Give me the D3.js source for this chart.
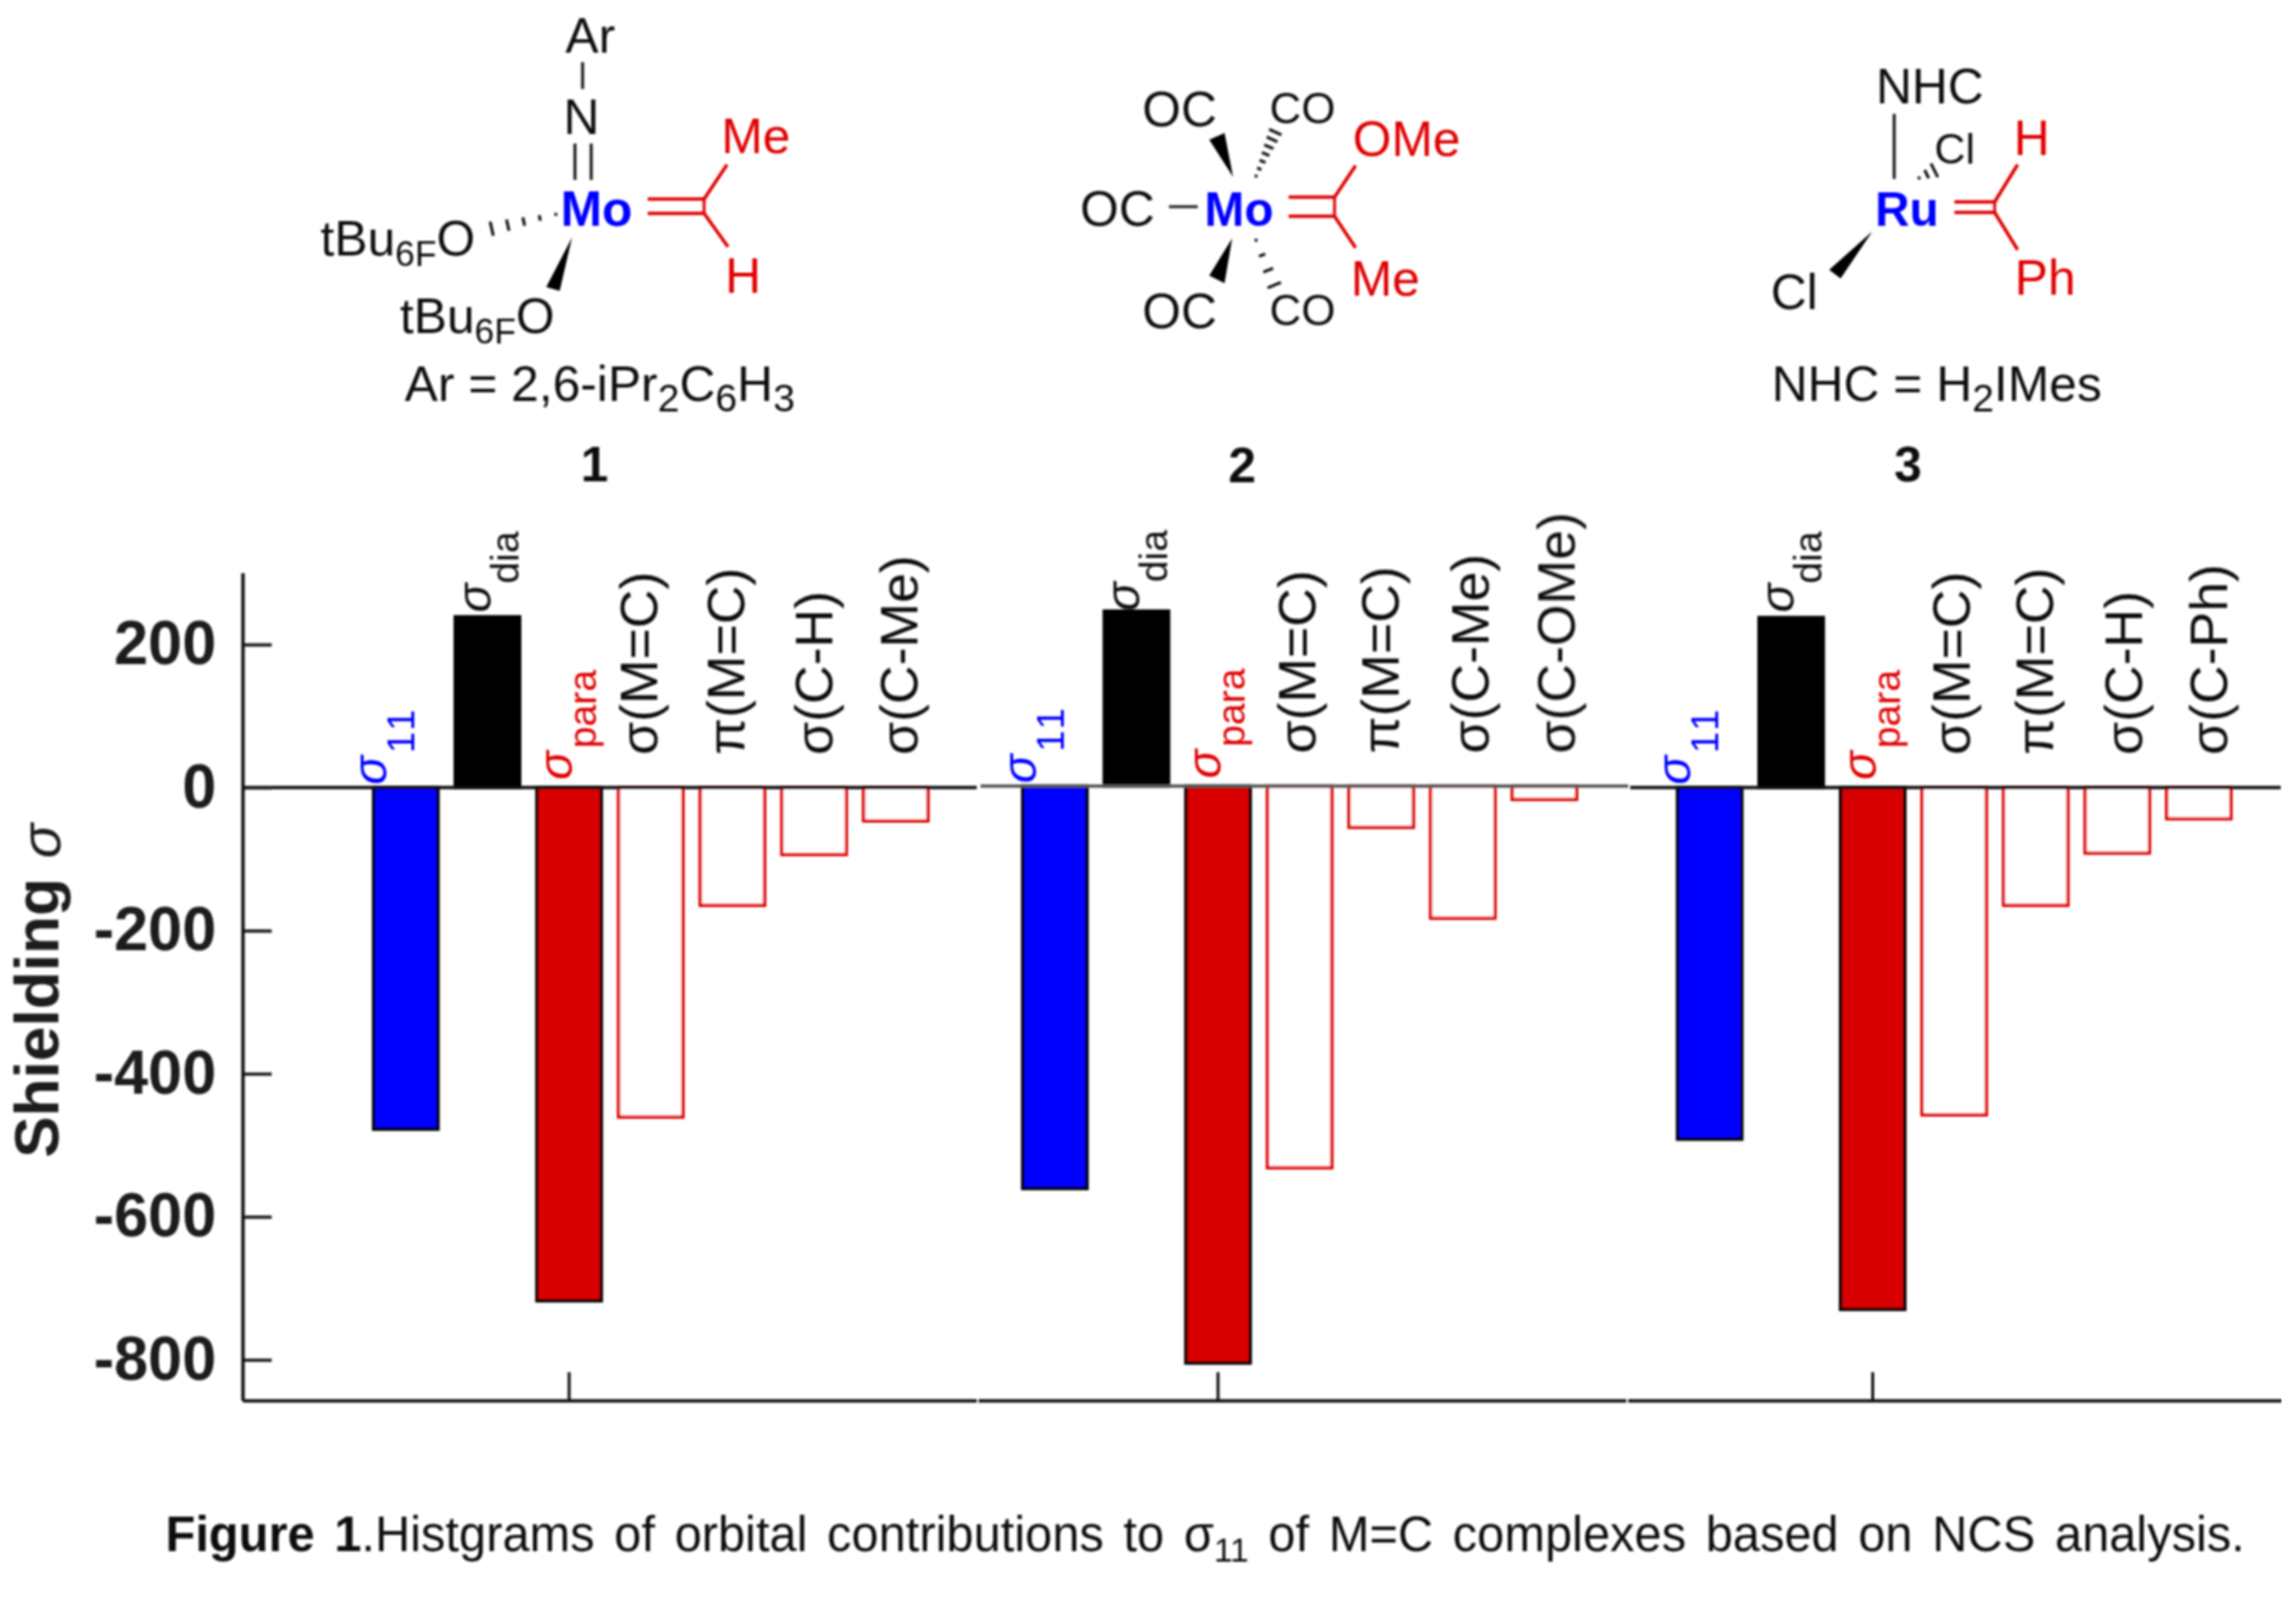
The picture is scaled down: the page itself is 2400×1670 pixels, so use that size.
<!DOCTYPE html>
<html><head><meta charset="utf-8">
<script src="https://cdn.jsdelivr.net/npm/d3@7"></script>
<style>html,body{margin:0;padding:0;background:#fff}svg{display:block}text{font-family:"Liberation Sans",Arial,sans-serif}</style>
</head><body><div id="c"></div>
<script>
// ---- data ----
const slots = ["s11","dia","para","o1","o2","o3","o4"];
const complexes = ["1","2","3"];
const values1 = [-480, 241, -720, -463, -167, -96, -49];
const values2 = [-565, 247, -809, -536, -60, -187, -21];
const values3 = [-494, 240, -732, -460, -167, -94, -46];
const orbitals1 = ["σ(M=C)","π(M=C)","σ(C-H)","σ(C-Me)"];
const orbitals2 = ["σ(M=C)","π(M=C)","σ(C-Me)","σ(C-OMe)"];
const orbitals3 = ["σ(M=C)","π(M=C)","σ(C-H)","σ(C-Ph)"];
const yTickValues = [200,0,-200,-400,-600,-800];
const mainLabels = [["11","#0000ff"],["dia","#111"],["para","#e00000"]];

// ---- layout ----
const W=2400,H=1670,blue="#0000ff",red="#e00000",fillRed="#d80000",ink="#111";
const y=d3.scaleLinear().domain([0,-800]).range([823,1421]);
const bottomY=1464;
const panels=[
 {vals:values1,orb:orbitals1,range:[381.5,979],seg:[254,1021],zero:[254,1021],dy:0,orbX:[687,778,870,959],zc:"#111"},
 {vals:values2,orb:orbitals2,range:[1060,1657],seg:[1023,1700],zero:[1025,1702],dy:-1.5,orbX:[1375,1462,1556,1646],zc:"#555"},
 {vals:values3,orb:orbitals3,range:[1744.5,2341],seg:[1702,2385],zero:[1704,2384],dy:0,orbX:[2059,2146,2239,2328],zc:"#111"}
];
const sigDx=[[-20,9],[3,32],[3,28]];
const fillOf=i=>i===0?blue:i===1?"#000":i===2?fillRed:"#fff";

const svg=d3.select("#c").append("svg").attr("width",W).attr("height",H);
const defs=svg.append("defs");
defs.append("filter").attr("id","soft").attr("x",0).attr("y",0).attr("width","100%").attr("height","100%")
  .append("feGaussianBlur").attr("stdDeviation",0.8);
svg.append("rect").attr("width",W).attr("height",H).attr("fill","#fff");
const root=svg.append("g").attr("filter","url(#soft)");

function rot(sel,x,yy,txt,size,col,opt={}){
  return sel.append("text").attr("transform",`translate(${x},${yy}) rotate(-90)`).attr("font-size",size)
    .attr("fill",col).attr("font-style",opt.style||null).attr("font-weight",opt.weight||null)
    .attr("letter-spacing",opt.ls||null).text(txt);
}

panels.forEach(p=>{
  const g=root.append("g").attr("transform",`translate(0,${p.dy})`);
  const x=d3.scaleBand().domain(slots).range(p.range).paddingInner(0.17).paddingOuter(0.085);
  const bw=x.bandwidth(), sw=3.5;
  g.selectAll("rect.bar").data(p.vals).join("rect").attr("class","bar")
    .attr("x",(d,i)=>x(slots[i])+sw/2).attr("width",bw-sw)
    .attr("y",d=>d>0?y(d)+sw/2:y(0))
    .attr("height",d=>Math.abs(y(d)-y(0))-sw/2)
    .attr("fill",(d,i)=>fillOf(i))
    .attr("stroke",(d,i)=>i<3?"#000":red).attr("stroke-width",sw);
  g.append("line").attr("x1",p.zero[0]).attr("x2",p.zero[1]).attr("y1",y(0)).attr("y2",y(0))
    .attr("stroke",p.zc).attr("stroke-width",3.5);
  const sigY=[[820,787],[640,610],[815,782]];
  mainLabels.forEach((m,i)=>{
    const c=x(slots[i])+bw/2;
    rot(g,c+sigDx[i][0],sigY[i][0],"σ",50,m[1],{style:"italic"});
    rot(g,c+sigDx[i][1],sigY[i][1],m[0],i===0?40:41,m[1],{ls:i===0?"4px":null});
  });
  p.orb.forEach((t,i)=>rot(g,p.orbX[i],789,t,56,"#111"));
  const ax=d3.axisBottom(x).tickValues(["para"]).tickFormat("").tickSize(-30).tickSizeOuter(0);
  const a=root.append("g").attr("transform",`translate(0,${bottomY})`).call(ax);
  a.select(".domain").remove();
  a.selectAll("line").attr("stroke","#111").attr("stroke-width",3);
  root.append("line").attr("x1",p.seg[0]).attr("x2",p.seg[1]).attr("y1",bottomY).attr("y2",bottomY)
    .attr("stroke","#111").attr("stroke-width",3.5);
});

// y axis
const yAxis=d3.axisLeft(y).tickValues(yTickValues).tickFormat(d=>String(d)).tickSize(-30).tickPadding(28).tickSizeOuter(0);
const ya=root.append("g").attr("transform","translate(254,0)").call(yAxis);
ya.select(".domain").remove();
ya.selectAll("line").attr("stroke","#222").attr("stroke-width",3.5);
ya.selectAll("text").attr("font-size",64).attr("font-weight","bold").attr("fill","#1a1a1a").attr("font-family",'"Liberation Sans"');
root.append("line").attr("x1",254).attr("x2",254).attr("y1",599).attr("y2",bottomY).attr("stroke","#111").attr("stroke-width",3.5);

// axis title
rot(root,61,1210,"Shielding",65,"#1a1a1a",{weight:"bold"});
rot(root,63,897,"σ",60,"#1a1a1a",{style:"italic"});

function formula(x,yy,parts,col,size,subSize){
  const t=root.append("text").attr("x",x).attr("y",yy).attr("fill",col).attr("font-size",size);
  let off=0;
  parts.forEach(p=>{
    const isSub=Array.isArray(p);
    const dy=isSub?11-off:-off;
    t.append("tspan").attr("dy",dy).attr("font-size",isSub?subSize:size).text(isSub?p[0]:p);
    off=isSub?11:0;
  });
  return t;
}
function L(x1,y1,x2,y2,col,w){root.append("line").attr("x1",x1).attr("y1",y1).attr("x2",x2).attr("y2",y2).attr("stroke",col||"#111").attr("stroke-width",w||3);}
function tri(a,b,c){root.append("path").attr("d",d3.line()([a,b,c])+"Z").attr("fill","#000");}
function hash(x1,y1,x2,y2,n,w1,w2){
  const dx=x2-x1,dy=y2-y1,l=Math.hypot(dx,dy),nx=-dy/l,ny=dx/l;
  d3.range(n).forEach(i=>{const f=i/(n-1),cx=x1+dx*f,cy=y1+dy*f,h=(w1+(w2-w1)*f)/2;
    L(cx-nx*h,cy-ny*h,cx+nx*h,cy+ny*h,"#111",3);});
}
function T(x,yy,s,col,size,weight){root.append("text").attr("x",x).attr("y",yy).attr("fill",col||"#111").attr("font-size",size||52).attr("font-weight",weight||null).text(s);}

// --- structure 1
T(591,55,"Ar");L(609,65,609,93);T(589,140,"N");L(601,150,601,188);L(618,150,618,188);
T(586,236,"Mo",blue,52,"bold");
L(677,208,736,208,red,3.5);L(677,223,736,223,red,3.5);L(736,208,736,223,red,3);L(736,208,760,172,red,3.5);L(736,223,761,258,red,3.5);
T(754,160,"Me",red);T(758,306,"H",red);
formula(335,267,["tBu",["6F"],"O"],"#111",52,37);
hash(581,224,514,239,5,3,15);
tri([598,248],[571,300],[585,304]);
formula(418,348,["tBu",["6F"],"O"],"#111",52,37);
formula(423,419,["Ar = 2,6-iPr",["2"],"C",["6"],"H",["3"]],"#111",52,41);
T(607,503,"1","#111",52,"bold");

// --- structure 2
T(1194,132,"OC");T(1327,129,"CO","#111",46);T(1414,163,"OMe",red);
T(1129,236,"OC");L(1222,216,1252,216,"#222",3);T(1259,236,"Mo",blue,50,"bold");
L(1347,206,1395,206,red,3.5);L(1347,226,1395,226,red,3.5);L(1395,206,1395,226,red,3);L(1395,206,1417,173,red,3.5);L(1395,226,1417,259,red,3.5);
T(1412,309,"Me",red);T(1194,343,"OC");T(1327,340,"CO","#111",46);
tri([1289,185],[1264,146],[1280,139]);tri([1288,249],[1264,288],[1280,296]);
hash(1313,184,1333,138,7,3,14);hash(1313,251,1332,298,4,3,15);
T(1284,504,"2","#111",52,"bold");

// --- structure 3
T(1961,108,"NHC");L(1980,119,1980,187);T(2022,171,"Cl","#111",45);T(2105,162,"H",red);
hash(2006,186,2022,178,3,3,16);
T(1960,236,"Ru",blue,50,"bold");
L(2043,211,2085,211,red,3.5);L(2043,222,2085,222,red,3.5);L(2085,211,2085,222,red,3);L(2085,211,2109,172,red,3.5);L(2085,222,2109,261,red,3.5);
T(2106,308,"Ph",red);tri([1957,242],[1912,282],[1924,291]);T(1851,323,"Cl");
formula(1852,419,["NHC = H",["2"],"IMes"],"#111",52,41);
T(1980,503,"3","#111",52,"bold");

// --- caption
const cap=root.append("text").attr("x",173).attr("y",1621).attr("font-size",51).attr("fill","#111").attr("word-spacing","6.4px");
cap.append("tspan").attr("font-weight","bold").text("Figure 1");
cap.append("tspan").text(".Histgrams of orbital contributions to σ");
cap.append("tspan").attr("dy",11).attr("font-size",35).text("11");
cap.append("tspan").attr("dy",-11).text(" of M=C complexes based on NCS analysis.");
</script></body></html>
